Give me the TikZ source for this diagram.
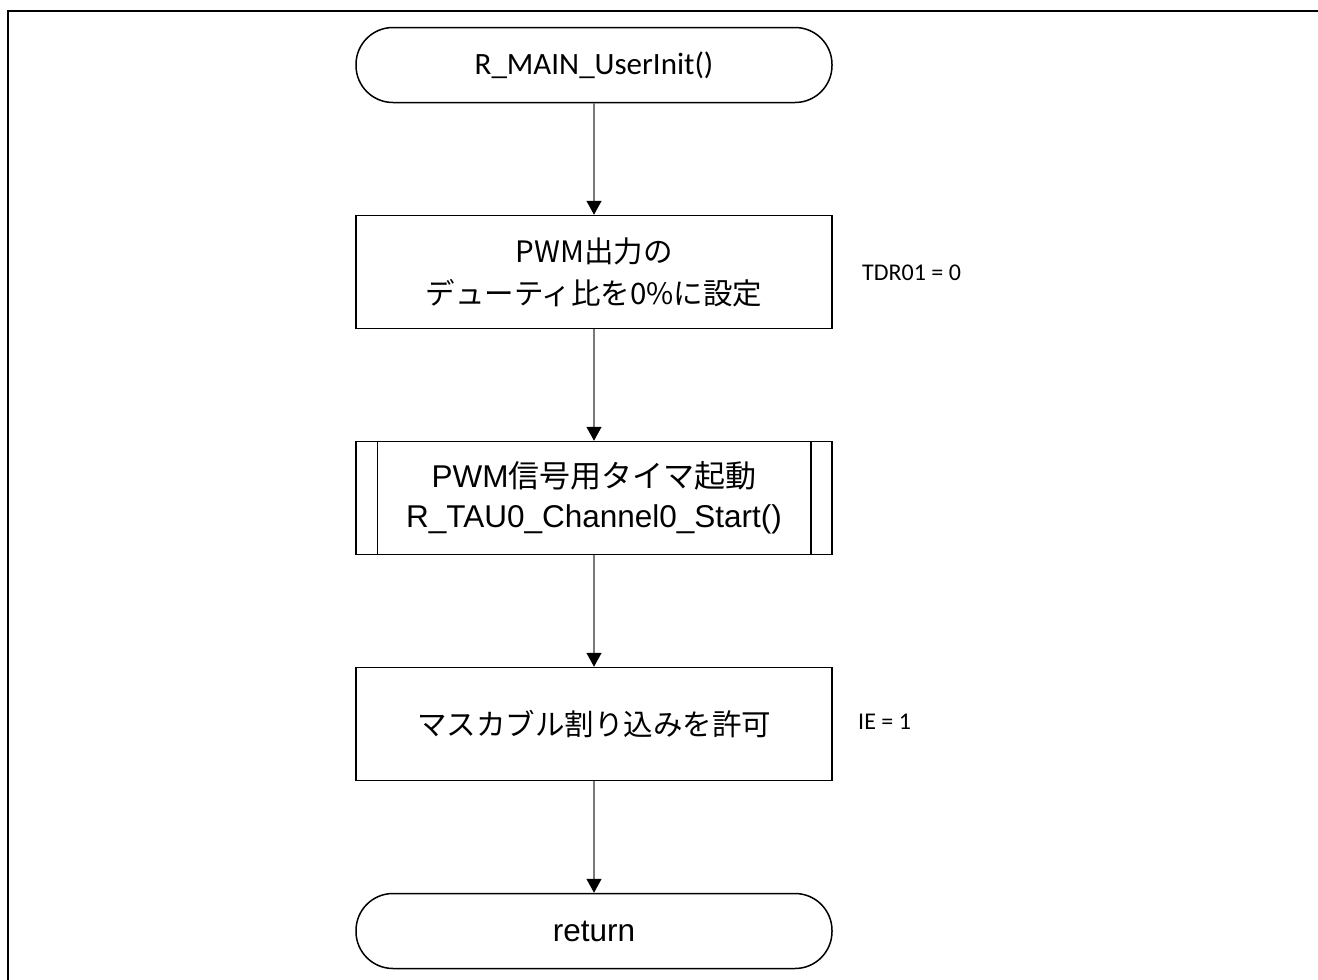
\documentclass[tikz,border=0pt]{standalone}
\usepackage{fontspec}
\setmainfont{Liberation Sans}
\newfontfamily\jpfont{Noto Sans CJK JP}
\newfontfamily\calfont{Carlito}
\usetikzlibrary{arrows.meta}
\tikzset{
  x=1pt, y=-1pt,
  frameline/.style={line width=2pt, black},
  termbox/.style={draw, line width=1.5pt, rounded corners=37pt, minimum width=476pt, minimum height=75pt, inner sep=0pt, align=center},
  procbox/.style={draw, line width=1.5pt, minimum width=476pt, minimum height=113pt, inner sep=0pt, align=center},
  flowarrow/.style={draw=gray!95!black, line width=1.3pt, -{Triangle[width=15pt,length=14pt,color=black]}},
  note/.style={anchor=west, inner sep=0pt, font=\calfont\fontsize{24}{28}\selectfont},
  bigfont/.style={font=\fontsize{31.5}{40}\selectfont},
  jpbig/.style={font=\jpfont\fontsize{29.5}{42}\selectfont},
}
\begin{document}
\begin{tikzpicture}
\useasboundingbox (0,0) rectangle (1318,980);
\draw[frameline] (8,990) -- (8,11) -- (1330,11);

\node[termbox, font=\calfont\fontsize{31}{36}\selectfont] (start) at (594,65) {R\_MAIN\_UserInit()};
\node[procbox, jpbig] (b1) at (594,272) {PWM出力の\\デューティ比を0\%に設定};
\node[procbox, bigfont] (b2) at (594,498) {PWM{\jpfont\fontsize{31}{40}\selectfont 信号用タイマ起動}\\R\_TAU0\_Channel0\_Start()};
\draw[line width=1.5pt] ([xshift=22pt]b2.north west) -- ([xshift=22pt]b2.south west);
\draw[line width=1.5pt] ([xshift=-22pt]b2.north east) -- ([xshift=-22pt]b2.south east);
\node[procbox, jpbig] (b3) at (594,724) {マスカブル割り込みを許可};
\node[termbox, bigfont] (ret) at (594,931) {return};

\node[note] (n1) at (862,273) {TDR01 = 0};
\node[note] (n3) at (858,722) {IE = 1};

\draw[flowarrow] (start) -- (b1);
\draw[flowarrow] (b1) -- (b2);
\draw[flowarrow] (b2) -- (b3);
\draw[flowarrow] (b3) -- (ret);
\end{tikzpicture}
\end{document}
